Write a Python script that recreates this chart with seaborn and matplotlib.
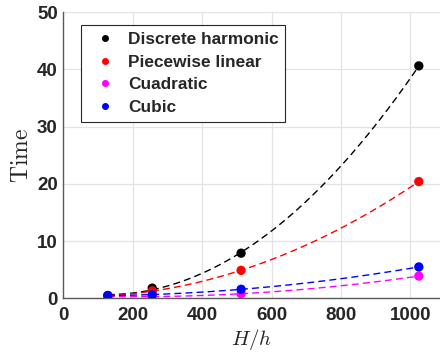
import numpy as np
import pandas as pd
import matplotlib
matplotlib.use("Agg")
import matplotlib.pyplot as plt
import seaborn as sns

# =======================
# Data
# =======================
ratio = [128, 256, 512, 1024]
methods = ["Discrete harmonic", "Piecewise linear", "Cuadratic", "Cubic"]
t_harmonic = [0.5, 1.8, 7.9, 40.6]
t_linear = [0.45, 1.3, 4.9, 20.4]
t_quadratic = [0.3, 0.35, 0.8, 3.9]
t_cubic = [0.5, 0.65, 1.6, 5.5]
colors = ["black", "red", "magenta", "blue"]

series = [t_harmonic, t_linear, t_quadratic, t_cubic]
df = pd.concat(
    [pd.DataFrame({"H/h": ratio, "Time": s, "method": m}) for m, s in zip(methods, series)],
    ignore_index=True,
)

# quadratic fit curves drawn dashed
xx = np.linspace(ratio[0], ratio[-1], 200)
fits = pd.concat(
    [pd.DataFrame({"H/h": xx, "Time": np.polyval(np.polyfit(ratio, s, 2), xx), "method": m})
     for m, s in zip(methods, series)],
    ignore_index=True,
)

# =======================
# Plot
# =======================
sns.set_style("white")
plt.rcParams["font.family"] = ["Liberation Sans", "DejaVu Sans"]
plt.rcParams["mathtext.fontset"] = "cm"

fig = plt.figure(figsize=(4.4, 3.54), dpi=100)
ax = fig.add_axes([0.144, 0.157, 0.856, 0.809])
palette = dict(zip(methods, colors))

sns.lineplot(data=fits, x="H/h", y="Time", hue="method", palette=palette,
             linestyle="--", linewidth=1.0, dashes=False, legend=False, ax=ax)
for line in ax.get_lines():
    line.set_dashes([5, 3])
sns.scatterplot(data=df, x="H/h", y="Time", hue="method", palette=palette,
                s=45, edgecolor="none", ax=ax, zorder=3)

ax.set_xlim(0, 1085)
ax.set_ylim(0, 50)
ax.set_xticks([0, 200, 400, 600, 800, 1000])
ax.set_yticks([0, 10, 20, 30, 40, 50])
ax.grid(True, color="#e3e3e3", linewidth=0.9)
ax.set_axisbelow(True)
for side in ["top", "right"]:
    ax.spines[side].set_visible(False)
for side in ["left", "bottom"]:
    ax.spines[side].set_color("#5a5a5a")
    ax.spines[side].set_linewidth(1.0)
ax.tick_params(direction="in", length=3, color="#5a5a5a", labelsize=13.5,
               labelcolor="#262626")
ax.tick_params(axis="x", pad=6)
ax.tick_params(axis="y", pad=4)
for lab in ax.get_xticklabels() + ax.get_yticklabels():
    lab.set_fontweight("bold")

ax.set_xlabel("$H/h$", fontsize=15, color="#262626", labelpad=2)
ax.set_ylabel(r"$\mathrm{Time}$", fontsize=17, color="#262626", labelpad=3)

handles, labels = ax.get_legend_handles_labels()
leg = ax.legend(handles, labels, loc="upper left", bbox_to_anchor=(0.048, 0.955),
                borderaxespad=0, frameon=True, fancybox=False, framealpha=1,
                edgecolor="#262626", prop={"weight": "bold", "size": 12.4},
                handletextpad=0.4, borderpad=0.4, labelspacing=0.45,
                handlelength=1.9, markerscale=0.75)
leg.get_frame().set_linewidth(0.8)

fig.savefig("out.png", dpi=100)
